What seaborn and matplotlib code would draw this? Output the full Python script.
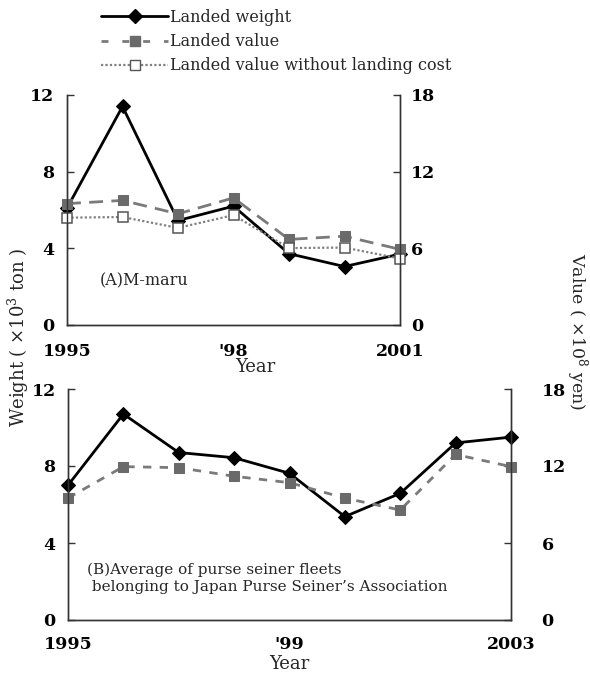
import numpy as np
import pandas as pd
import matplotlib
matplotlib.use("Agg")
import matplotlib.pyplot as plt
import seaborn as sns
from matplotlib.lines import Line2D

# ---------------- data ----------------
years_a = [1995, 1996, 1997, 1998, 1999, 2000, 2001]
weight_a = [6.1, 11.4, 5.45, 6.2, 3.72, 3.05, 3.7]
value_a = [9.5, 9.75, 8.7, 9.95, 6.7, 6.95, 5.92]
value_nocost_a = [8.4, 8.45, 7.6, 8.6, 6.02, 6.06, 5.2]
xtick_labels_a = {1995: "1995", 1998: "'98", 2001: "2001"}

years_b = [1995, 1996, 1997, 1998, 1999, 2000, 2001, 2002, 2003]
weight_b = [7.0, 10.7, 8.7, 8.43, 7.62, 5.37, 6.58, 9.2, 9.5]
value_b = [9.5, 11.95, 11.87, 11.2, 10.7, 9.5, 8.57, 12.9, 11.95]
xtick_labels_b = {1995: "1995", 1999: "'99", 2003: "2003"}

weight_ticks = [0, 4, 8, 12]
value_ticks = [0, 6, 12, 18]

legend_labels = ["Landed weight", "Landed value", "Landed value without landing cost"]

# ---------------- style ----------------
sns.set_style("white")
plt.rcParams["font.family"] = ["DejaVu Serif"]
plt.rcParams["mathtext.fontset"] = "dejavuserif"

W, H = 590, 675
fig = plt.figure(figsize=(W / 100, H / 100), dpi=100)

def fbox(x0, y0, x1, y1):
    return [x0 / W, 1 - y1 / H, (x1 - x0) / W, (y1 - y0) / H]

BLACK = "black"
GREY = "#6a6a6a"
GREY_LINE = "#7a7a7a"
GREY_DOT = "#808080"
D_MS = 7
S_MS = 7

def style_axes(ax, ax2, years, labels, xpad, rpad):
    ax.set_xlim(years[0], years[-1])
    ax.set_ylim(0, 12)
    ax2.set_ylim(0, 18)
    ax.set_xticks(years)
    ax.set_xticklabels([labels.get(y, "") for y in years])
    ax.set_yticks(weight_ticks)
    ax2.set_yticks(value_ticks)
    for a in (ax, ax2):
        a.spines["top"].set_visible(False)
        for s in ("left", "right", "bottom"):
            a.spines[s].set_color("#333333")
            a.spines[s].set_linewidth(1.0)
        a.set_ylabel("")
    ax.tick_params(axis="x", direction="in", length=5, width=1, pad=xpad,
                   labelsize=12.5, colors="#333333", labelcolor="black")
    ax.tick_params(axis="y", direction="in", length=5, width=1, pad=9,
                   labelsize=12.5, colors="#333333", labelcolor="black")
    ax2.tick_params(axis="y", direction="in", length=5, width=1, pad=rpad,
                    labelsize=12.5, colors="#333333", labelcolor="black")
    for t in ax.get_xticklabels() + ax.get_yticklabels() + ax2.get_yticklabels():
        t.set_fontweight("bold")
    ax.grid(False)
    ax2.grid(False)

# ---------------- panel A ----------------
axA = fig.add_axes(fbox(67, 95, 400, 325))
axA2 = axA.twinx()
dfA = pd.DataFrame({"year": years_a, "weight": weight_a,
                    "value": value_a, "nocost": value_nocost_a})
sns.lineplot(data=dfA, x="year", y="weight", ax=axA, color=BLACK, lw=2,
             marker="D", markersize=D_MS, markeredgecolor=BLACK, clip_on=False)
sns.lineplot(data=dfA, x="year", y="value", ax=axA2, color=GREY_LINE, lw=2,
             linestyle=(0, (5, 3)), marker="s", markersize=S_MS,
             markerfacecolor=GREY, markeredgecolor=GREY, clip_on=False)
sns.lineplot(data=dfA, x="year", y="nocost", ax=axA2, color=GREY_DOT, lw=1.6,
             linestyle=(0, (1, 1)), marker="s", markersize=S_MS,
             markerfacecolor="white", markeredgecolor="#555555",
             markeredgewidth=1.1, clip_on=False)
style_axes(axA, axA2, years_a, xtick_labels_a, xpad=13, rpad=8)
axA.set_xlabel("Year", fontsize=13)
axA.xaxis.label.set_va("center")
axA.xaxis.set_label_coords((255 - 67) / 333, -(367 - 325) / 230)
axA.text((100 - 67) / 333, (325 - 281) / 230, "(A)M-maru", transform=axA.transAxes,
         fontsize=11.5, va="center", ha="left")

# ---------------- panel B ----------------
axB = fig.add_axes(fbox(68, 389, 511, 620))
axB2 = axB.twinx()
dfB = pd.DataFrame({"year": years_b, "weight": weight_b, "value": value_b})
sns.lineplot(data=dfB, x="year", y="weight", ax=axB, color=BLACK, lw=2,
             marker="D", markersize=D_MS, markeredgecolor=BLACK, clip_on=False)
sns.lineplot(data=dfB, x="year", y="value", ax=axB2, color=GREY_LINE, lw=2,
             linestyle=(0, (3, 3)), marker="s", markersize=S_MS,
             markerfacecolor=GREY, markeredgecolor=GREY, clip_on=False)
style_axes(axB, axB2, years_b, xtick_labels_b, xpad=11.5, rpad=22)
axB.set_xlabel("Year", fontsize=13)
axB.xaxis.label.set_va("center")
axB.xaxis.set_label_coords(0.5, -(664 - 620) / 231)
axB.text((87 - 68) / 443, (620 - 578) / 231,
         "(B)Average of purse seiner fleets\n belonging to Japan Purse Seiner\u2019s Association",
         transform=axB.transAxes, fontsize=11, va="center", ha="left", linespacing=1.3)

# ---------------- shared axis titles ----------------
fig.text(18 / W, 1 - 337 / H, "Weight ( \u00d710$^{3}$ ton )", rotation=90,
         ha="center", va="center", fontsize=13)
fig.text(577 / W, 1 - 332 / H, "Value ( \u00d710$^{8}$ yen)", rotation=270,
         ha="center", va="center", fontsize=12.5)

# ---------------- legend ----------------
handles = [
    Line2D([], [], color=BLACK, lw=2, marker="D", markersize=D_MS),
    Line2D([], [], color=GREY_LINE, lw=2, linestyle=(0, (2.5, 5)), marker="s",
           markersize=S_MS, markerfacecolor=GREY, markeredgecolor=GREY),
    Line2D([], [], color=GREY_DOT, lw=1.6, linestyle=(0, (1, 1)), marker="s",
           markersize=S_MS, markerfacecolor="white", markeredgecolor="#555555"),
]
fig.legend(handles, legend_labels, loc="upper left",
           bbox_to_anchor=(101 / W, 1 - 9 / H), frameon=False, fontsize=11.5,
           handlelength=4.2, handletextpad=0.15, labelspacing=0.45, borderpad=0,
           borderaxespad=0)

fig.savefig("out.png", dpi=100)
